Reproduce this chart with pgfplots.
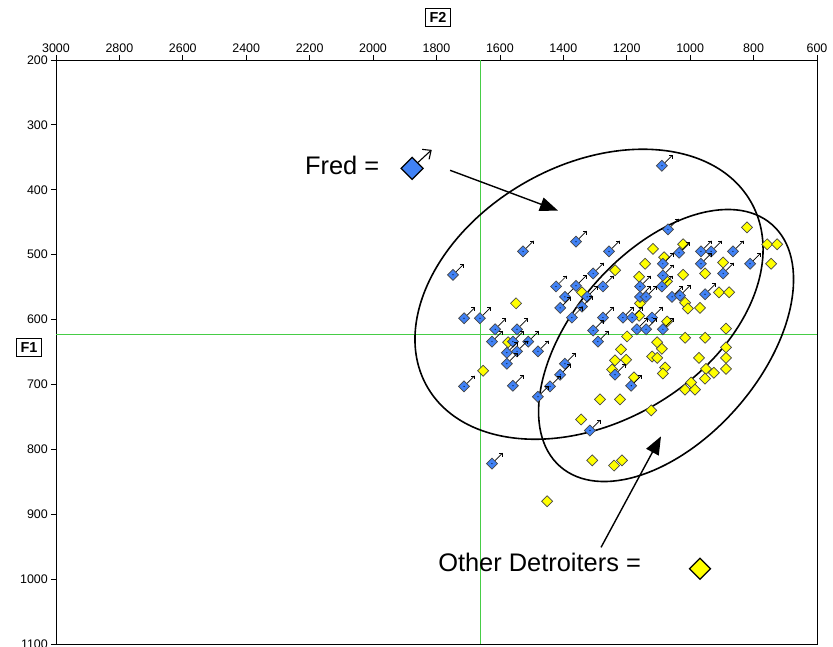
\documentclass[border=0pt]{standalone}
\usepackage{pgfplots}
\pgfplotsset{compat=1.18}
\usepackage{pgfplotstable}
\usepackage{fontspec}
\setmainfont{Liberation Sans}
\usetikzlibrary{arrows.meta}

\definecolor{fblue}{RGB}{65,130,245}
\definecolor{fyellow}{RGB}{255,255,0}
\definecolor{mgray}{RGB}{70,70,70}
\definecolor{fgreen}{RGB}{70,205,70}

\pgfdeclareplotmark{bdiam}{%
  \pgfsetlinewidth{0.7bp}%
  \pgfsetstrokecolor{black}%
  \pgfpathmoveto{\pgfqpoint{3bp}{3bp}}%
  \pgfpathlineto{\pgfqpoint{10.5bp}{10.5bp}}%
  \pgfusepathqstroke
  \pgfpathmoveto{\pgfqpoint{7bp}{10.5bp}}%
  \pgfpathlineto{\pgfqpoint{10.5bp}{10.5bp}}%
  \pgfpathlineto{\pgfqpoint{10.5bp}{7bp}}%
  \pgfusepathqstroke
  \pgfsetstrokecolor{mgray}%
  \pgfsetfillcolor{fblue}%
  \pgfpathmoveto{\pgfqpoint{0bp}{5.5bp}}%
  \pgfpathlineto{\pgfqpoint{5.5bp}{0bp}}%
  \pgfpathlineto{\pgfqpoint{0bp}{-5.5bp}}%
  \pgfpathlineto{\pgfqpoint{-5.5bp}{0bp}}%
  \pgfpathclose
  \pgfusepathqfillstroke
  \pgfsetfillcolor{black}%
  \pgfpathcircle{\pgfpointorigin}{0.6bp}%
  \pgfusepathqfill
}
\pgfdeclareplotmark{ydiam}{%
  \pgfsetlinewidth{0.7bp}%
  \pgfsetstrokecolor{mgray}%
  \pgfsetfillcolor{fyellow}%
  \pgfpathmoveto{\pgfqpoint{0bp}{5.5bp}}%
  \pgfpathlineto{\pgfqpoint{5.5bp}{0bp}}%
  \pgfpathlineto{\pgfqpoint{0bp}{-5.5bp}}%
  \pgfpathlineto{\pgfqpoint{-5.5bp}{0bp}}%
  \pgfpathclose
  \pgfusepathqfillstroke
}
\pgfdeclareplotmark{bdiamL}{%
  \pgfsetlinewidth{1.1bp}%
  \pgfsetstrokecolor{black}%
  \pgfpathmoveto{\pgfqpoint{6bp}{6bp}}%
  \pgfpathlineto{\pgfqpoint{19bp}{18bp}}%
  \pgfusepathqstroke
  \pgfpathmoveto{\pgfqpoint{10bp}{19bp}}%
  \pgfpathlineto{\pgfqpoint{19bp}{18bp}}%
  \pgfpathlineto{\pgfqpoint{17bp}{9bp}}%
  \pgfusepathqstroke
  \pgfsetlinewidth{1.3bp}%
  \pgfsetfillcolor{fblue}%
  \pgfpathmoveto{\pgfqpoint{0bp}{11bp}}%
  \pgfpathlineto{\pgfqpoint{11bp}{0bp}}%
  \pgfpathlineto{\pgfqpoint{0bp}{-11bp}}%
  \pgfpathlineto{\pgfqpoint{-11bp}{0bp}}%
  \pgfpathclose
  \pgfusepathqfillstroke
}
\pgfdeclareplotmark{ydiamL}{%
  \pgfsetlinewidth{1.3bp}%
  \pgfsetstrokecolor{black}%
  \pgfsetfillcolor{fyellow}%
  \pgfpathmoveto{\pgfqpoint{0bp}{10.5bp}}%
  \pgfpathlineto{\pgfqpoint{10.5bp}{0bp}}%
  \pgfpathlineto{\pgfqpoint{0bp}{-10.5bp}}%
  \pgfpathlineto{\pgfqpoint{-10.5bp}{0bp}}%
  \pgfpathclose
  \pgfusepathqfillstroke
}

\pgfplotstableread{
x y
1089 363
1070 461
1527 495
1360 480
1256 495
1035 497
966 495
934 495
865 495
1748 531
1423 549
1395 565
1410 582
1713 598
1663 598
1086 514
966 514
811 514
1306 529
1086 532
896 529
1360 548
1275 549
1158 549
1089 549
1325 565
1158 565
1139 565
1057 565
1032 563
953 561
1341 580
1373 597
1275 597
1212 597
1183 597
1120 597
1615 615
1546 615
1306 617
1168 615
1139 615
1086 615
1625 634
1559 634
1511 634
1291 634
1578 651
1546 649
1480 649
1578 668
1395 668
1410 685
1237 685
1713 703
1559 702
1442 703
1186 702
1480 719
1625 822
1316 771
}\fred

\pgfplotstableread{
x y
1549 575
1117 491
1022 484
1142 514
1082 504
1237 524
1161 534
1022 531
1073 541
1341 558
1158 575
1016 574
1161 594
1073 603
821 458
757 484
726 484
896 512
745 514
953 529
909 558
877 558
1007 583
969 582
1574 635
1653 679
1199 626
1016 628
1104 635
1089 645
1218 646
1237 663
1202 662
1120 657
1104 659
1246 677
1079 674
1086 683
1177 689
1016 708
1284 723
1221 723
1123 740
1344 754
887 614
953 628
887 643
972 659
887 659
950 676
925 682
887 676
953 691
997 697
985 708
1309 817
1240 825
1215 817
1451 880
}\others

\begin{document}
\begin{tikzpicture}
\path[use as bounding box] (0,0) rectangle (833bp,647bp);
\begin{axis}[
  at={(56bp,3bp)}, anchor=south west,
  scale only axis, width=761bp, height=584bp,
  x dir=reverse, y dir=reverse,
  xmin=600, xmax=3000, ymin=200, ymax=1100,
  xtick={600,800,...,3000}, ytick={200,300,...,1100},
  xtick pos=upper, xticklabel pos=upper,
  ytick pos=lower, yticklabel pos=lower,
  tick align=outside, major tick length=5bp,
  axis line style={line width=0.8bp},
  every tick/.style={black, line width=0.8bp},
  tick label style={font=\fontsize{12.5}{14}\selectfont},
  xticklabel style={inner sep=2bp},
  yticklabel style={inner sep=3bp},
  /pgf/number format/assume math mode=true,
  /pgf/number format/1000 sep={},
  clip=false,
]
\draw[fgreen, line width=1bp] (axis cs:1660,200) -- (axis cs:1660,1100);
\draw[fgreen, line width=1bp] (axis cs:600,623) -- (axis cs:3000,623);
\addplot[only marks, mark=ydiam] table[x=x,y=y] {\others};
\addplot[only marks, mark=bdiam] table[x=x,y=y] {\fred};
\coordinate (e1) at (axis cs:1319,561);
\coordinate (e2) at (axis cs:1076,640);
\draw[line width=1.6bp, rotate around={29.7:(e1)}] (e1) ellipse [x radius=186.4bp, y radius=128.7bp];
\draw[line width=1.6bp, rotate around={48.8:(e2)}] (e2) ellipse [x radius=160.8bp, y radius=94.3bp];
\draw[line width=1.4bp, -{Triangle[length=18bp,width=14bp]}] (axis cs:1757,370) -- (axis cs:1417,432);
\draw[line width=1.4bp, -{Triangle[length=18bp,width=14bp]}] (axis cs:1281,951) -- (axis cs:1092,780);
\node[anchor=west, inner sep=0pt, font=\fontsize{25.5}{30}\selectfont] at (axis cs:2215,363) {Fred =};
\node[anchor=west, inner sep=0pt, font=\fontsize{25.5}{30}\selectfont] at (axis cs:1795,974) {Other Detroiters =};
\addplot[only marks, mark=bdiamL] coordinates {(1877,367)};
\addplot[only marks, mark=ydiamL] coordinates {(969,984)};
\node[draw, line width=0.9bp, inner sep=4bp, font=\fontsize{14.5}{16}\selectfont\bfseries] at (axis cs:1795,134) {F2};
\node[draw, line width=0.9bp, inner sep=4bp, font=\fontsize{14.5}{16}\selectfont\bfseries] at (axis cs:3085,643) {F1};
\end{axis}
\end{tikzpicture}
\end{document}
